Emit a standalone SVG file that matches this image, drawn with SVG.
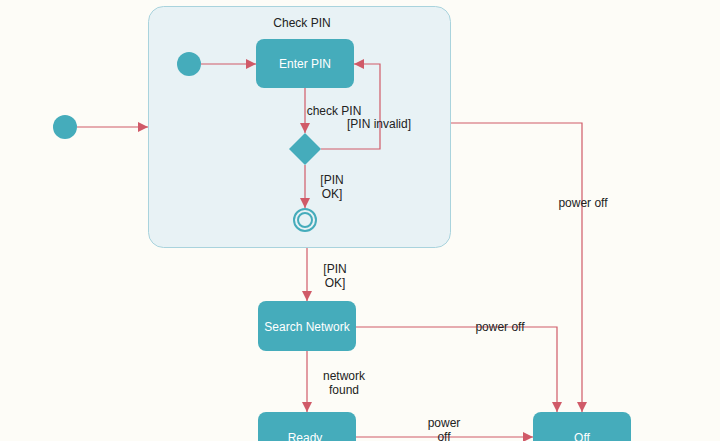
<svg xmlns="http://www.w3.org/2000/svg" width="720" height="441" viewBox="0 0 720 441">
<defs>
<marker id="ah" viewBox="0 0 10 10" refX="10" refY="5" markerWidth="10" markerHeight="10" markerUnits="userSpaceOnUse" orient="auto">
<path d="M0,0 L10,5 L0,10 z" fill="#d05a68"/>
</marker>
<style>
.edge{fill:none;stroke:#d05a68;stroke-width:1.2;marker-end:url(#ah)}
.line{fill:none;stroke:#d05a68;stroke-width:1.2}
.st{fill:#45acbb}
.st-t{font-family:"Liberation Sans",Arial,sans-serif;font-size:12px;fill:#ffffff;text-anchor:middle}
.lbl{font-family:"Liberation Sans",Arial,sans-serif;font-size:12px;fill:#222222;text-anchor:middle}
</style>
</defs>
<rect width="720" height="441" fill="#fdfcf7"/>
<g id="checkpin">
<rect x="148.5" y="6.5" width="302" height="241" rx="15" fill="#e8f2f5" stroke="#a9d3dd" stroke-width="1"/>
<text class="lbl" x="302" y="27">Check PIN</text>
</g>
<g id="init-outer"><circle class="st" cx="65" cy="127" r="12"/></g>
<g id="init-inner"><circle class="st" cx="189" cy="64" r="12"/></g>
<g id="enterpin"><rect class="st" x="256" y="39" width="98" height="49" rx="8"/><text class="st-t" x="305" y="68">Enter PIN</text></g>
<g id="choice"><path class="st" d="M305,133 L321,149 L305,165 L289,149 z"/></g>
<g id="final"><circle cx="305" cy="220" r="11" fill="none" stroke="#45acbb" stroke-width="2"/><circle cx="305" cy="220" r="7" fill="none" stroke="#45acbb" stroke-width="2"/></g>
<g id="search"><rect class="st" x="258" y="301" width="98" height="50" rx="8"/><text class="st-t" x="307" y="331">Search Network</text></g>
<g id="ready"><rect class="st" x="258" y="412" width="98" height="50" rx="8"/><text class="st-t" x="305" y="442">Ready</text></g>
<g id="off"><rect class="st" x="533" y="412" width="98" height="50" rx="8"/><text class="st-t" x="582" y="442">Off</text></g>
<g id="connectors">
<path class="edge" d="M77,127 L148,127"/>
<path class="edge" d="M201,64 L256,64"/>
<path class="edge" d="M305,88 L305,133"/>
<path class="edge" d="M321,149 L380,149 L380,64 L354,64"/>
<path class="edge" d="M305,165 L305,208"/>
<path class="edge" d="M307,248 L307,301"/>
<path class="edge" d="M307,351 L307,412"/>
<path class="edge" d="M356,327 L557,327 L557,412"/>
<path class="edge" d="M451,123 L582,123 L582,412"/>
<path class="edge" d="M356,437 L533,437"/>
</g>
<g id="labels">
<text class="lbl" x="334" y="115">check PIN</text>
<text class="lbl" x="379" y="128">[PIN invalid]</text>
<text class="lbl" x="332" y="184">[PIN</text>
<text class="lbl" x="332" y="198">OK]</text>
<text class="lbl" x="335" y="273">[PIN</text>
<text class="lbl" x="335" y="287">OK]</text>
<text class="lbl" x="500" y="331">power off</text>
<text class="lbl" x="344" y="380">network</text>
<text class="lbl" x="344" y="394">found</text>
<text class="lbl" x="583" y="207">power off</text>
<text class="lbl" x="444" y="427">power</text>
<text class="lbl" x="444" y="441">off</text>
</g>
</svg>
